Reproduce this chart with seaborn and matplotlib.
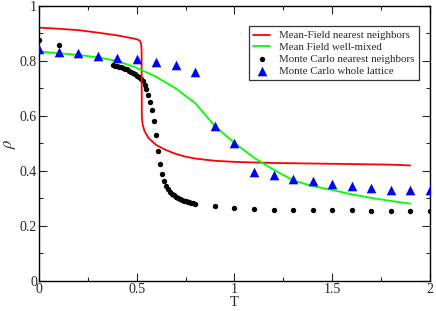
import numpy as np
import pandas as pd
import matplotlib
matplotlib.use("Agg")
import matplotlib.pyplot as plt
import seaborn as sns
from matplotlib.ticker import MultipleLocator

# ---- data ----
mf_nn_T = [0.0, 0.1, 0.2, 0.3, 0.4, 0.5, 0.515, 0.522, 0.525, 0.526, 0.53, 0.54,
           0.56, 0.6, 0.65, 0.7, 0.75, 0.8, 0.9, 1.0, 1.2, 1.4, 1.6, 1.8, 1.9]
mf_nn_rho = [0.921, 0.917, 0.912, 0.903, 0.893, 0.879, 0.874, 0.865, 0.84, 0.60, 0.57, 0.545,
             0.52, 0.494, 0.476, 0.462, 0.452, 0.445, 0.437, 0.433, 0.429, 0.427, 0.425, 0.423, 0.42]

mf_wm_T = [0.0, 0.1, 0.2, 0.3, 0.4, 0.5, 0.6, 0.7, 0.8, 0.9, 1.0,
           1.1, 1.2, 1.3, 1.4, 1.5, 1.6, 1.7, 1.8, 1.9]
mf_wm_rho = [0.834, 0.828, 0.822, 0.813, 0.800, 0.775, 0.742, 0.700, 0.646, 0.563, 0.502,
             0.448, 0.405, 0.366, 0.345, 0.331, 0.315, 0.302, 0.291, 0.281]

mc_nn_T = [0.0, 0.1,
           0.38, 0.39, 0.40, 0.41, 0.42, 0.43, 0.44, 0.45, 0.46, 0.47, 0.48, 0.49,
           0.50, 0.51, 0.52, 0.53, 0.54, 0.55, 0.56, 0.57, 0.58, 0.59, 0.60, 0.61,
           0.62, 0.63, 0.64, 0.65, 0.66, 0.67, 0.68, 0.69, 0.70, 0.71, 0.72, 0.73,
           0.74, 0.75, 0.76, 0.77, 0.78, 0.79, 0.80,
           0.9, 1.0, 1.1, 1.2, 1.3, 1.4, 1.5, 1.6, 1.7, 1.8, 1.9, 2.0]
mc_nn_rho = [0.875, 0.858,
             0.785, 0.783, 0.781, 0.779, 0.777, 0.775, 0.772, 0.769, 0.765, 0.761, 0.757, 0.752,
             0.747, 0.742, 0.735, 0.726, 0.713, 0.697, 0.675, 0.650, 0.620, 0.580, 0.530, 0.474,
             0.427, 0.390, 0.364, 0.347, 0.335, 0.325, 0.317, 0.311, 0.305, 0.301, 0.297, 0.294,
             0.292, 0.290, 0.288, 0.286, 0.284, 0.283, 0.281,
             0.271, 0.265, 0.261, 0.259, 0.258, 0.258, 0.257, 0.257, 0.256, 0.256, 0.256, 0.256]

mc_wl_T = [0.0, 0.1, 0.2, 0.3, 0.4, 0.5, 0.6, 0.7, 0.8, 0.9, 1.0,
           1.1, 1.2, 1.3, 1.4, 1.5, 1.6, 1.7, 1.8, 1.9, 2.0]
mc_wl_rho = [0.842, 0.834, 0.828, 0.818, 0.810, 0.806, 0.797, 0.784, 0.759, 0.563, 0.502,
             0.398, 0.384, 0.371, 0.362, 0.352, 0.344, 0.338, 0.332, 0.329, 0.329]

x_ticks = [0, 0.5, 1, 1.5, 2]
x_ticklabels = ["0", "0.5", "1", "1.5", "2"]
y_ticks = [0, 0.2, 0.4, 0.6, 0.8, 1.0]
y_ticklabels = ["0", "0.2", "0.4", "0.6", "0.8", "1"]

labels = ["Mean-Field nearest neighbors", "Mean Field well-mixed",
          "Monte Carlo nearest neighbors", "Monte Carlo whole lattice"]

# ---- style ----
sns.set_style("ticks")
plt.rcParams['font.family'] = ['Liberation Serif', 'DejaVu Serif']
plt.rcParams['mathtext.fontset'] = 'stix'

fig = plt.figure(figsize=(4.36, 3.11), dpi=100)
ax = fig.add_axes([0.0894, 0.0965, 0.8966, 0.8845])

sns.lineplot(x=mf_nn_T, y=mf_nn_rho, ax=ax, color="#ff0000", lw=1.3,
             sort=False, label=labels[0])
sns.lineplot(x=mf_wm_T, y=mf_wm_rho, ax=ax, color="#00ff00", lw=1.3,
             sort=False, label=labels[1])
sns.scatterplot(x=mc_nn_T, y=mc_nn_rho, ax=ax, color="black", s=15,
                marker="o", linewidth=0, label=labels[2])
sns.scatterplot(x=mc_wl_T, y=mc_wl_rho, ax=ax, color="#0000ff", s=48,
                marker="^", linewidth=0, label=labels[3], zorder=3)

ax.set_xlim(0, 2)
ax.set_ylim(0, 1)
ax.set_xticks(x_ticks)
ax.set_xticklabels(x_ticklabels)
ax.set_yticks(y_ticks)
ax.set_yticklabels(y_ticklabels)
ax.xaxis.set_minor_locator(MultipleLocator(0.25))
ax.yaxis.set_minor_locator(MultipleLocator(0.1))
ax.tick_params(which="both", direction="in", top=True, right=True,
               labelsize=10, pad=1.5, width=0.8)
ax.tick_params(which="major", length=6)
ax.tick_params(which="minor", length=3)
for s in ax.spines.values():
    s.set_linewidth(1.0)
    s.set_color("black")

ax.set_xlabel("T", fontsize=10.5, labelpad=0)
ax.set_ylabel(r"$\rho$", fontsize=12, labelpad=1)

leg = ax.legend(loc="upper right", bbox_to_anchor=(0.985, 0.945), fontsize=7.8,
                frameon=True, fancybox=False, edgecolor="black",
                handlelength=1.6, handletextpad=0.8, borderpad=0.4,
                labelspacing=0.2)
leg.get_frame().set_linewidth(0.9)

fig.savefig("out.png", dpi=100)
